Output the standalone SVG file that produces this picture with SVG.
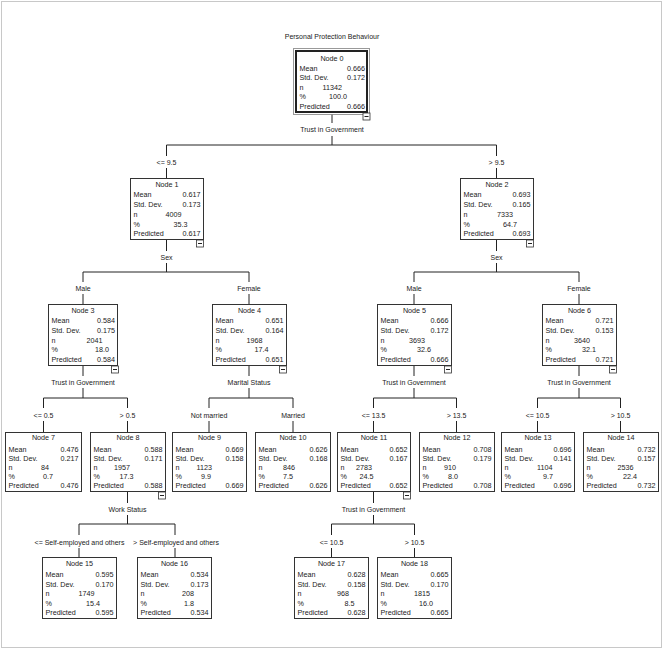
<svg xmlns="http://www.w3.org/2000/svg" width="664" height="650" viewBox="0 0 664 650">
<style>
text{font-family:"Liberation Sans",Arial,sans-serif;fill:#1a1a1a}
.t{font-size:7.2px}
.c{text-anchor:middle}
.e{text-anchor:end}
.lb{font-size:7px;text-anchor:middle}
.box{fill:#fff;stroke:#333;stroke-width:1}
.mb{fill:#fff;stroke:#333;stroke-width:0.8}
.cn{fill:none;stroke:#222;stroke-width:1}
</style>
<rect x="1.5" y="1.5" width="660" height="646" fill="#fff" stroke="#c8c8c8" stroke-width="1"/>
<text class="lb" x="332" y="38.5">Personal Protection Behaviour</text>

<g id="connectors">
<path class="cn" d="M332,114.5V123M332,136V145M166.5,145H496.5M166.5,145V156M166.5,168V178M496.5,145V156M496.5,168V178"/>
<path class="cn" d="M166.5,240V251M166.5,263V272M83,272H249M83,272V282M83,294V304M249,272V282M249,294V304"/>
<path class="cn" d="M496.5,240V251M496.5,263V272M414,272H579M414,272V282M414,294V304M579,272V282M579,294V304"/>
<path class="cn" d="M83,366V376M83,388V398M43.5,398H127.5M43.5,398V408M43.5,421V432M127.5,398V408M127.5,421V432"/>
<path class="cn" d="M249,366V376M249,388V398M209,398H293M209,398V408M209,421V432M293,398V408M293,421V432"/>
<path class="cn" d="M414,366V376M414,388V398M373.5,398H456.5M373.5,398V408M373.5,421V432M456.5,398V408M456.5,421V432"/>
<path class="cn" d="M579,366V376M579,388V398M537.5,398H620.5M537.5,398V408M537.5,421V432M620.5,398V408M620.5,421V432"/>
<path class="cn" d="M127.5,492V503M127.5,515V524M79,524H175M79,524V535M79,548V557M175,524V535M175,548V557"/>
<path class="cn" d="M373.5,492V503M373.5,515V524M331.5,524H414.5M331.5,524V535M331.5,548V557M414.5,524V535M414.5,548V557"/>
<text class="lb" x="332" y="132">Trust in Government</text>
<text class="lb" x="166.5" y="164.5">&lt;= 9.5</text>
<text class="lb" x="496.5" y="164.5">&gt; 9.5</text>
<text class="lb" x="166.5" y="259.5">Sex</text>
<text class="lb" x="496.5" y="259.5">Sex</text>
<text class="lb" x="83" y="290.5">Male</text>
<text class="lb" x="249" y="290.5">Female</text>
<text class="lb" x="414" y="290.5">Male</text>
<text class="lb" x="579" y="290.5">Female</text>
<text class="lb" x="83" y="384.5">Trust in Government</text>
<text class="lb" x="249" y="384.5">Marital Status</text>
<text class="lb" x="414" y="384.5">Trust in Government</text>
<text class="lb" x="579" y="384.5">Trust in Government</text>
<text class="lb" x="43.5" y="417.5">&lt;= 0.5</text>
<text class="lb" x="127.5" y="417.5">&gt; 0.5</text>
<text class="lb" x="209" y="417.5">Not married</text>
<text class="lb" x="293" y="417.5">Married</text>
<text class="lb" x="373.5" y="417.5">&lt;= 13.5</text>
<text class="lb" x="456.5" y="417.5">&gt; 13.5</text>
<text class="lb" x="537.5" y="417.5">&lt;= 10.5</text>
<text class="lb" x="620.5" y="417.5">&gt; 10.5</text>
<text class="lb" x="127.5" y="511.5">Work Status</text>
<text class="lb" x="373.5" y="511.5">Trust in Government</text>
<text class="lb" x="79.5" y="544.5">&lt;= Self-employed and others</text>
<text class="lb" x="176" y="544.5">&gt; Self-employed and others</text>
<text class="lb" x="331.5" y="544.5">&lt;= 10.5</text>
<text class="lb" x="414.5" y="544.5">&gt; 10.5</text>
</g>

<g id="node0">
<rect x="293.5" y="48.5" width="76" height="66" fill="#fff" stroke="#333" stroke-width="1" stroke-dasharray="1,1"/>
<rect x="296" y="51" width="71" height="61" fill="#fff" stroke="#222" stroke-width="2"/>
<text class="t c" x="332" y="60.8">Node 0</text>
<text class="t" x="299.5" y="70.8">Mean</text><text class="t e" x="365" y="70.8">0.666</text>
<text class="t" x="299.5" y="80.3">Std. Dev.</text><text class="t e" x="365" y="80.3">0.172</text>
<text class="t" x="299.5" y="89.8">n</text><text class="t e" x="342" y="89.8">11342</text>
<text class="t" x="299.5" y="99.2">%</text><text class="t e" x="347" y="99.2">100.0</text>
<text class="t" x="299.5" y="108.7">Predicted</text><text class="t e" x="365" y="108.7">0.666</text>
<rect class="mb" x="363" y="113" width="7" height="7"/><path class="cn" d="M364.5,116.5H368.5" stroke-width="0.8"/>
</g>

<g id="node1">
<rect class="box" x="130.5" y="178.5" width="73" height="61"/>
<text class="t c" x="167" y="187">Node 1</text>
<text class="t" x="133.5" y="197.2">Mean</text><text class="t e" x="200.5" y="197.2">0.617</text>
<text class="t" x="133.5" y="207.4">Std. Dev.</text><text class="t e" x="200.5" y="207.4">0.173</text>
<text class="t" x="133.5" y="217.2">n</text><text class="t e" x="181.5" y="217.2">4009</text>
<text class="t" x="133.5" y="226.8">%</text><text class="t e" x="187.5" y="226.8">35.3</text>
<text class="t" x="133.5" y="236">Predicted</text><text class="t e" x="200.5" y="236">0.617</text>
<rect class="mb" x="196.5" y="240" width="7" height="7"/><path class="cn" d="M198,243.5H202" stroke-width="0.8"/>
</g>

<g id="node2">
<rect class="box" x="460.5" y="178.5" width="73" height="61"/>
<text class="t c" x="497" y="187">Node 2</text>
<text class="t" x="463.5" y="197.2">Mean</text><text class="t e" x="530.5" y="197.2">0.693</text>
<text class="t" x="463.5" y="207.4">Std. Dev.</text><text class="t e" x="530.5" y="207.4">0.165</text>
<text class="t" x="463.5" y="217.2">n</text><text class="t e" x="513" y="217.2">7333</text>
<text class="t" x="463.5" y="226.8">%</text><text class="t e" x="517" y="226.8">64.7</text>
<text class="t" x="463.5" y="236">Predicted</text><text class="t e" x="530.5" y="236">0.693</text>
<rect class="mb" x="526.5" y="240" width="7" height="7"/><path class="cn" d="M528,243.5H532" stroke-width="0.8"/>
</g>

<g id="node3">
<rect class="box" x="48.5" y="304.5" width="69" height="61"/>
<text class="t c" x="83" y="313">Node 3</text>
<text class="t" x="51.5" y="323.2">Mean</text><text class="t e" x="115" y="323.2">0.584</text>
<text class="t" x="51.5" y="333.2">Std. Dev.</text><text class="t e" x="115" y="333.2">0.175</text>
<text class="t" x="51.5" y="342.6">n</text><text class="t e" x="102.5" y="342.6">2041</text>
<text class="t" x="51.5" y="352">%</text><text class="t e" x="109" y="352">18.0</text>
<text class="t" x="51.5" y="361.6">Predicted</text><text class="t e" x="115" y="361.6">0.584</text>
<rect class="mb" x="111.5" y="366" width="7" height="7"/><path class="cn" d="M113,369.5H117" stroke-width="0.8"/>
</g>

<g id="node4">
<rect class="box" x="212.5" y="304.5" width="74" height="61"/>
<text class="t c" x="249.5" y="313">Node 4</text>
<text class="t" x="215.5" y="323.2">Mean</text><text class="t e" x="283.5" y="323.2">0.651</text>
<text class="t" x="215.5" y="333.2">Std. Dev.</text><text class="t e" x="283.5" y="333.2">0.164</text>
<text class="t" x="215.5" y="342.6">n</text><text class="t e" x="262.5" y="342.6">1968</text>
<text class="t" x="215.5" y="352">%</text><text class="t e" x="268.5" y="352">17.4</text>
<text class="t" x="215.5" y="361.6">Predicted</text><text class="t e" x="283.5" y="361.6">0.651</text>
<rect class="mb" x="279.5" y="366" width="7" height="7"/><path class="cn" d="M281,369.5H285" stroke-width="0.8"/>
</g>

<g id="node5">
<rect class="box" x="377.5" y="304.5" width="74" height="61"/>
<text class="t c" x="414.5" y="313">Node 5</text>
<text class="t" x="380.5" y="323.2">Mean</text><text class="t e" x="448.5" y="323.2">0.666</text>
<text class="t" x="380.5" y="333.2">Std. Dev.</text><text class="t e" x="448.5" y="333.2">0.172</text>
<text class="t" x="380.5" y="342.6">n</text><text class="t e" x="425" y="342.6">3693</text>
<text class="t" x="380.5" y="352">%</text><text class="t e" x="431" y="352">32.6</text>
<text class="t" x="380.5" y="361.6">Predicted</text><text class="t e" x="448.5" y="361.6">0.666</text>
<rect class="mb" x="444.5" y="366" width="7" height="7"/><path class="cn" d="M446,369.5H450" stroke-width="0.8"/>
</g>

<g id="node6">
<rect class="box" x="542.5" y="304.5" width="74" height="61"/>
<text class="t c" x="579.5" y="313">Node 6</text>
<text class="t" x="545.5" y="323.2">Mean</text><text class="t e" x="613.5" y="323.2">0.721</text>
<text class="t" x="545.5" y="333.2">Std. Dev.</text><text class="t e" x="613.5" y="333.2">0.153</text>
<text class="t" x="545.5" y="342.6">n</text><text class="t e" x="590" y="342.6">3640</text>
<text class="t" x="545.5" y="352">%</text><text class="t e" x="596" y="352">32.1</text>
<text class="t" x="545.5" y="361.6">Predicted</text><text class="t e" x="613.5" y="361.6">0.721</text>
<rect class="mb" x="609.5" y="366" width="7" height="7"/><path class="cn" d="M611,369.5H615" stroke-width="0.8"/>
</g>

<g id="node7">
<rect class="box" x="5.5" y="432.5" width="76" height="59"/>
<text class="t c" x="43.5" y="440">Node 7</text>
<text class="t" x="8.5" y="451.5">Mean</text><text class="t e" x="78.5" y="451.5">0.476</text>
<text class="t" x="8.5" y="460.8">Std. Dev.</text><text class="t e" x="78.5" y="460.8">0.217</text>
<text class="t" x="8.5" y="470">n</text><text class="t e" x="49" y="470">84</text>
<text class="t" x="8.5" y="479.2">%</text><text class="t e" x="53" y="479.2">0.7</text>
<text class="t" x="8.5" y="488.2">Predicted</text><text class="t e" x="78.5" y="488.2">0.476</text>
</g>

<g id="node8">
<rect class="box" x="90.5" y="432.5" width="75" height="59"/>
<text class="t c" x="128" y="440">Node 8</text>
<text class="t" x="93.5" y="451.5">Mean</text><text class="t e" x="162.5" y="451.5">0.588</text>
<text class="t" x="93.5" y="460.8">Std. Dev.</text><text class="t e" x="162.5" y="460.8">0.171</text>
<text class="t" x="93.5" y="470">n</text><text class="t e" x="130" y="470">1957</text>
<text class="t" x="93.5" y="479.2">%</text><text class="t e" x="133.5" y="479.2">17.3</text>
<text class="t" x="93.5" y="488.2">Predicted</text><text class="t e" x="162.5" y="488.2">0.588</text>
<rect class="mb" x="158.5" y="492" width="7" height="7"/><path class="cn" d="M160,495.5H164" stroke-width="0.8"/>
</g>

<g id="node9">
<rect class="box" x="172.5" y="432.5" width="74" height="59"/>
<text class="t c" x="209.5" y="440">Node 9</text>
<text class="t" x="175.5" y="451.5">Mean</text><text class="t e" x="243.5" y="451.5">0.669</text>
<text class="t" x="175.5" y="460.8">Std. Dev.</text><text class="t e" x="243.5" y="460.8">0.158</text>
<text class="t" x="175.5" y="470">n</text><text class="t e" x="212" y="470">1123</text>
<text class="t" x="175.5" y="479.2">%</text><text class="t e" x="211" y="479.2">9.9</text>
<text class="t" x="175.5" y="488.2">Predicted</text><text class="t e" x="243.5" y="488.2">0.669</text>
</g>

<g id="node10">
<rect class="box" x="255.5" y="432.5" width="75" height="59"/>
<text class="t c" x="293" y="440">Node 10</text>
<text class="t" x="258.5" y="451.5">Mean</text><text class="t e" x="327.5" y="451.5">0.626</text>
<text class="t" x="258.5" y="460.8">Std. Dev.</text><text class="t e" x="327.5" y="460.8">0.168</text>
<text class="t" x="258.5" y="470">n</text><text class="t e" x="295" y="470">846</text>
<text class="t" x="258.5" y="479.2">%</text><text class="t e" x="293" y="479.2">7.5</text>
<text class="t" x="258.5" y="488.2">Predicted</text><text class="t e" x="327.5" y="488.2">0.626</text>
</g>

<g id="node11">
<rect class="box" x="337.5" y="432.5" width="73" height="59"/>
<text class="t c" x="374" y="440">Node 11</text>
<text class="t" x="340.5" y="451.5">Mean</text><text class="t e" x="407.5" y="451.5">0.652</text>
<text class="t" x="340.5" y="460.8">Std. Dev.</text><text class="t e" x="407.5" y="460.8">0.167</text>
<text class="t" x="340.5" y="470">n</text><text class="t e" x="372" y="470">2783</text>
<text class="t" x="340.5" y="479.2">%</text><text class="t e" x="373.5" y="479.2">24.5</text>
<text class="t" x="340.5" y="488.2">Predicted</text><text class="t e" x="407.5" y="488.2">0.652</text>
<rect class="mb" x="403.5" y="492" width="7" height="7"/><path class="cn" d="M405,495.5H409" stroke-width="0.8"/>
</g>

<g id="node12">
<rect class="box" x="419.5" y="432.5" width="75" height="59"/>
<text class="t c" x="457" y="440">Node 12</text>
<text class="t" x="422.5" y="451.5">Mean</text><text class="t e" x="491.5" y="451.5">0.708</text>
<text class="t" x="422.5" y="460.8">Std. Dev.</text><text class="t e" x="491.5" y="460.8">0.179</text>
<text class="t" x="422.5" y="470">n</text><text class="t e" x="456" y="470">910</text>
<text class="t" x="422.5" y="479.2">%</text><text class="t e" x="458" y="479.2">8.0</text>
<text class="t" x="422.5" y="488.2">Predicted</text><text class="t e" x="491.5" y="488.2">0.708</text>
</g>

<g id="node13">
<rect class="box" x="501.5" y="432.5" width="73" height="59"/>
<text class="t c" x="538" y="440">Node 13</text>
<text class="t" x="504.5" y="451.5">Mean</text><text class="t e" x="571.5" y="451.5">0.696</text>
<text class="t" x="504.5" y="460.8">Std. Dev.</text><text class="t e" x="571.5" y="460.8">0.141</text>
<text class="t" x="504.5" y="470">n</text><text class="t e" x="552.5" y="470">1104</text>
<text class="t" x="504.5" y="479.2">%</text><text class="t e" x="553" y="479.2">9.7</text>
<text class="t" x="504.5" y="488.2">Predicted</text><text class="t e" x="571.5" y="488.2">0.696</text>
</g>

<g id="node14">
<rect class="box" x="583.5" y="432.5" width="75" height="59"/>
<text class="t c" x="621" y="440">Node 14</text>
<text class="t" x="586.5" y="451.5">Mean</text><text class="t e" x="655.5" y="451.5">0.732</text>
<text class="t" x="586.5" y="460.8">Std. Dev.</text><text class="t e" x="655.5" y="460.8">0.157</text>
<text class="t" x="586.5" y="470">n</text><text class="t e" x="633.5" y="470">2536</text>
<text class="t" x="586.5" y="479.2">%</text><text class="t e" x="637" y="479.2">22.4</text>
<text class="t" x="586.5" y="488.2">Predicted</text><text class="t e" x="655.5" y="488.2">0.732</text>
</g>

<g id="node15">
<rect class="box" x="42.5" y="557.5" width="74" height="61"/>
<text class="t c" x="79.5" y="566">Node 15</text>
<text class="t" x="45.5" y="577">Mean</text><text class="t e" x="113.5" y="577">0.595</text>
<text class="t" x="45.5" y="586.6">Std. Dev.</text><text class="t e" x="113.5" y="586.6">0.170</text>
<text class="t" x="45.5" y="596">n</text><text class="t e" x="94.5" y="596">1749</text>
<text class="t" x="45.5" y="605.5">%</text><text class="t e" x="100" y="605.5">15.4</text>
<text class="t" x="45.5" y="615.2">Predicted</text><text class="t e" x="113.5" y="615.2">0.595</text>
</g>

<g id="node16">
<rect class="box" x="137.5" y="557.5" width="74" height="61"/>
<text class="t c" x="174.5" y="566">Node 16</text>
<text class="t" x="140.5" y="577">Mean</text><text class="t e" x="208.5" y="577">0.534</text>
<text class="t" x="140.5" y="586.6">Std. Dev.</text><text class="t e" x="208.5" y="586.6">0.173</text>
<text class="t" x="140.5" y="596">n</text><text class="t e" x="194" y="596">208</text>
<text class="t" x="140.5" y="605.5">%</text><text class="t e" x="194" y="605.5">1.8</text>
<text class="t" x="140.5" y="615.2">Predicted</text><text class="t e" x="208.5" y="615.2">0.534</text>
</g>

<g id="node17">
<rect class="box" x="294.5" y="557.5" width="74" height="61"/>
<text class="t c" x="331.5" y="566">Node 17</text>
<text class="t" x="297.5" y="577">Mean</text><text class="t e" x="365.5" y="577">0.628</text>
<text class="t" x="297.5" y="586.6">Std. Dev.</text><text class="t e" x="365.5" y="586.6">0.158</text>
<text class="t" x="297.5" y="596">n</text><text class="t e" x="349" y="596">968</text>
<text class="t" x="297.5" y="605.5">%</text><text class="t e" x="354.5" y="605.5">8.5</text>
<text class="t" x="297.5" y="615.2">Predicted</text><text class="t e" x="365.5" y="615.2">0.628</text>
</g>

<g id="node18">
<rect class="box" x="377.5" y="557.5" width="74" height="61"/>
<text class="t c" x="414.5" y="566">Node 18</text>
<text class="t" x="380.5" y="577">Mean</text><text class="t e" x="448.5" y="577">0.665</text>
<text class="t" x="380.5" y="586.6">Std. Dev.</text><text class="t e" x="448.5" y="586.6">0.170</text>
<text class="t" x="380.5" y="596">n</text><text class="t e" x="430" y="596">1815</text>
<text class="t" x="380.5" y="605.5">%</text><text class="t e" x="433" y="605.5">16.0</text>
<text class="t" x="380.5" y="615.2">Predicted</text><text class="t e" x="448.5" y="615.2">0.665</text>
</g>
</svg>
